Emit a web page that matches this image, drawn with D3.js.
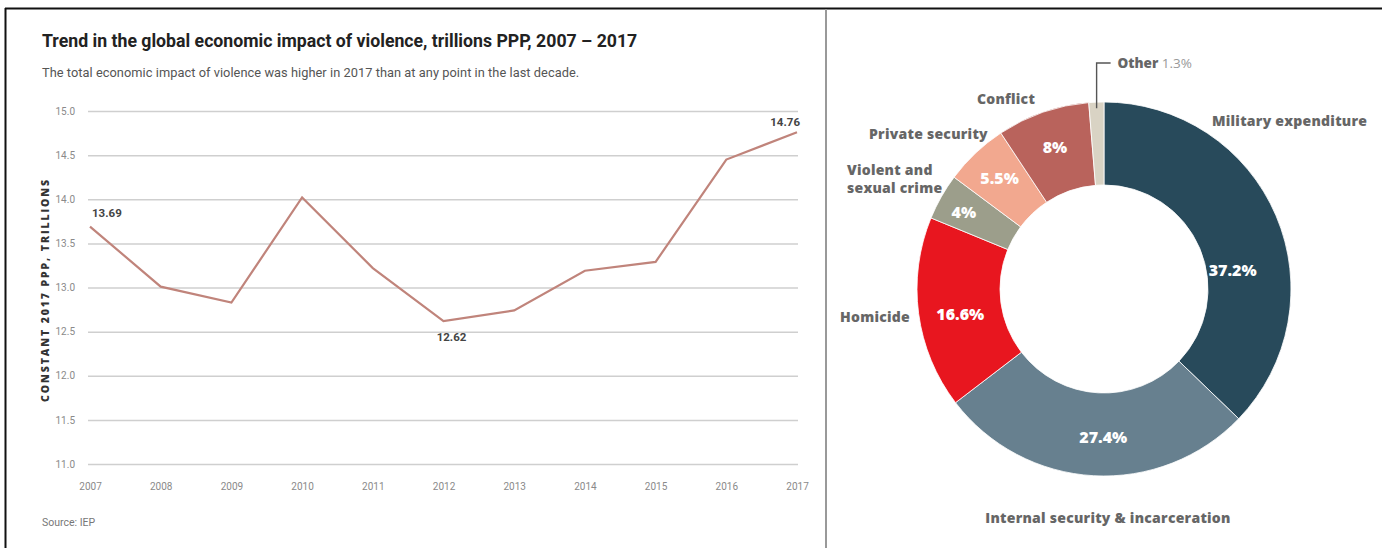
<!DOCTYPE html>
<html>
<head>
<meta charset="utf-8">
<script src="https://cdn.jsdelivr.net/npm/d3@7"></script>
<style>
  html, body { margin: 0; padding: 0; background: #fff; }
  svg { display: block; }
</style>
</head>
<body>
<svg id="chart" width="1382" height="548"></svg>
<script>
// Line chart data: global economic impact of violence, trillions PPP
const years = [2007, 2008, 2009, 2010, 2011, 2012, 2013, 2014, 2015, 2016, 2017];
const impact = [13.69, 13.01, 12.83, 14.02, 13.22, 12.62, 12.74, 13.19, 13.29, 14.45, 14.76];
const yTicks = [11.0, 11.5, 12.0, 12.5, 13.0, 13.5, 14.0, 14.5, 15.0];
const labelledYears = [2007, 2012, 2017];

// Donut data: composition of the economic impact, percent
const categories = ["Military expenditure", "Internal security & incarceration", "Homicide",
  "Violent and sexual crime", "Private security", "Conflict", "Other"];
const shares = [37.2, 27.4, 16.6, 4, 5.5, 8, 1.3];
const shareLabels = ["37.2%", "27.4%", "16.6%", "4%", "5.5%", "8%", "1.3%"];
const sliceColors = ["#284a5b", "#67808f", "#e8161f", "#9c9e8b", "#f2a88f", "#b9635c", "#d9d3c4"];

const svg = d3.select("#chart");

// Frame: top rule, left rule, panel divider
svg.append("line").attr("x1", 5).attr("x2", 1382).attr("y1", 8.5).attr("y2", 8.5)
  .attr("stroke", "#111").attr("stroke-width", 2);
svg.append("line").attr("x1", 5.5).attr("x2", 5.5).attr("y1", 8).attr("y2", 548)
  .attr("stroke", "#111").attr("stroke-width", 2);
svg.append("line").attr("x1", 826).attr("x2", 826).attr("y1", 9).attr("y2", 548)
  .attr("stroke", "#999").attr("stroke-width", 2);

// ---------- Line chart ----------
const titleFont = "'Roboto', 'Liberation Sans', sans-serif";
const textFont = "'Roboto', 'Liberation Sans', sans-serif";

svg.append("text").attr("x", 42).attr("y", 47)
  .attr("font-family", titleFont).attr("font-weight", 700).attr("font-size", 17.7)
  .attr("letter-spacing", 0).attr("fill", "#222")
  .text("Trend in the global economic impact of violence, trillions PPP, 2007 – 2017");

svg.append("text").attr("x", 42).attr("y", 77)
  .attr("font-family", textFont).attr("font-size", 12.8).attr("fill", "#555")
  .attr("letter-spacing", 0.05)
  .text("The total economic impact of violence was higher in 2017 than at any point in the last decade.");

svg.append("text").attr("x", 42).attr("y", 526)
  .attr("font-family", textFont).attr("font-size", 10.5).attr("fill", "#777")
  .text("Source: IEP");

const x = d3.scaleLinear().domain([2007, 2017]).range([90, 797]);
const y = d3.scaleLinear().domain([11, 15]).range([464, 111]);

// Horizontal grid with tick labels
const yAxis = d3.axisLeft(y).tickValues(yTicks).tickFormat(d3.format(".1f"))
  .tickSize(-(798 - 88)).tickPadding(13);
const gy = svg.append("g").attr("transform", "translate(88,0)").call(yAxis);
gy.select(".domain").remove();
gy.selectAll(".tick line").attr("stroke", "#cfcfcf").attr("stroke-width", 1.5);
gy.selectAll(".tick text").attr("font-family", textFont).attr("font-size", 10)
  .attr("fill", "#8a8a8a");

const xAxis = d3.axisBottom(x).tickValues(years).tickFormat(d3.format("d")).tickSize(0).tickPadding(19);
const gx = svg.append("g").attr("transform", "translate(0,464)").call(xAxis);
gx.select(".domain").remove();
gx.selectAll(".tick text").attr("font-family", textFont).attr("font-size", 10)
  .attr("fill", "#8a8a8a");

svg.append("text")
  .attr("transform", "translate(49,290) rotate(-90)")
  .attr("text-anchor", "middle")
  .attr("font-family", "'Open Sans', 'DejaVu Sans', sans-serif").attr("font-weight", 800)
  .attr("font-size", 10.5).attr("letter-spacing", 1.9).attr("fill", "#333")
  .text("CONSTANT 2017 PPP, TRILLIONS");

const series = years.map((yr, i) => ({ year: yr, value: impact[i] }));
svg.append("path").datum(series)
  .attr("fill", "none").attr("stroke", "#c0847b").attr("stroke-width", 2.2)
  .attr("stroke-linejoin", "miter")
  .attr("d", d3.line().x(d => x(d.year)).y(d => y(d.value)));

// Value labels on selected years
const labelPos = {
  2007: { dx: 2, dy: -10, anchor: "start" },
  2012: { dx: 8, dy: 20, anchor: "middle" },
  2017: { dx: 3, dy: -6, anchor: "end" }
};
series.filter(d => labelledYears.includes(d.year)).forEach(d => {
  const p = labelPos[d.year];
  svg.append("text")
    .attr("x", x(d.year) + p.dx).attr("y", y(d.value) + p.dy)
    .attr("text-anchor", p.anchor)
    .attr("font-family", textFont).attr("font-weight", 700).attr("font-size", 11.5)
    .attr("fill", "#444")
    .text(d3.format(".2f")(d.value));
});

// ---------- Donut chart ----------
const cx = 1104, cy = 289, rOuter = 187, rInner = 104;
const slices = categories.map((c, i) => ({ name: c, value: shares[i], label: shareLabels[i], color: sliceColors[i] }));
const pie = d3.pie().value(d => d.value).sort(null);
const arcs = pie(slices);
const arc = d3.arc().innerRadius(rInner).outerRadius(rOuter);

const gd = svg.append("g").attr("transform", `translate(${cx},${cy})`);
gd.selectAll("path").data(arcs).join("path")
  .attr("d", arc).attr("fill", d => d.data.color)
  .attr("stroke", "#fff").attr("stroke-width", 0.8);

const boldFont = "'Open Sans', 'DejaVu Sans', sans-serif";

// Percent labels inside the ring: position along each slice (fraction of its sweep, radius)
const pctPlace = {
  "Military expenditure": [0.61, 130],
  "Internal security & incarceration": [0.47, 148],
  "Homicide": [0.46, 146],
  "Violent and sexual crime": [0.45, 160],
  "Private security": [0.5, 152],
  "Conflict": [0.5, 150]
};
arcs.filter(d => pctPlace[d.data.name]).forEach(d => {
  const [f, r] = pctPlace[d.data.name];
  const a = d.startAngle + f * (d.endAngle - d.startAngle);
  gd.append("text")
    .attr("x", Math.sin(a) * r).attr("y", -Math.cos(a) * r)
    .attr("text-anchor", "middle").attr("dy", "0.35em")
    .attr("font-family", boldFont).attr("font-weight", 800).attr("font-size", 16)
    .attr("fill", "#fff")
    .text(d.data.label);
});

// Category labels around the ring
const catLabel = {
  "Military expenditure": { x: 1212, y: 126, anchor: "start" },
  "Internal security & incarceration": { x: 1108, y: 523, anchor: "middle" },
  "Homicide": { x: 910, y: 322, anchor: "end" },
  "Violent and sexual crime": { x: 847, y: 175, anchor: "start", lines: ["Violent and", "sexual crime"] },
  "Private security": { x: 869, y: 139, anchor: "start" },
  "Conflict": { x: 1006, y: 104, anchor: "middle" }
};
Object.entries(catLabel).forEach(([name, p]) => {
  const t = svg.append("text")
    .attr("x", p.x).attr("y", p.y).attr("text-anchor", p.anchor)
    .attr("font-family", boldFont).attr("font-weight", 800).attr("font-size", 14)
    .attr("letter-spacing", 0.25).attr("fill", "#666");
  (p.lines || [name]).forEach((ln, i) => {
    t.append("tspan").attr("x", p.x).attr("dy", i === 0 ? 0 : 18).text(ln);
  });
});

// "Other" leader line and label
const other = arcs.find(d => d.data.name === "Other");
const otherMid = (other.startAngle + other.endAngle) / 2;
const ox = cx + Math.sin(otherMid) * (rOuter - 6);
const oy = cy - Math.cos(otherMid) * (rOuter - 6);
svg.append("path")
  .attr("d", `M${ox},${oy} V63 H${ox + 14}`)
  .attr("fill", "none").attr("stroke", "#555").attr("stroke-width", 1.4);
const ot = svg.append("text").attr("x", ox + 21).attr("y", 68)
  .attr("font-family", boldFont).attr("font-size", 13.5);
ot.append("tspan").attr("font-weight", 800).attr("fill", "#666").text("Other ");
ot.append("tspan").attr("font-weight", 400).attr("fill", "#999").text(other.data.label);
</script>
</body>
</html>
